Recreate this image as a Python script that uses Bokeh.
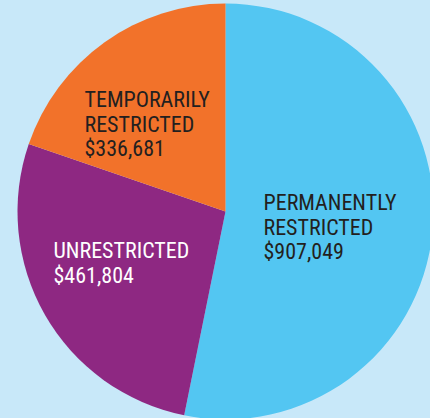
import math
from bokeh.plotting import figure
from bokeh.models import Range1d, ColumnDataSource, GlobalInlineStyleSheet
from bokeh.core.properties import value
from bokeh.embed import file_html
from bokeh.resources import INLINE

# data
categories = ["PERMANENTLY\nRESTRICTED", "UNRESTRICTED", "TEMPORARILY\nRESTRICTED"]
amounts = [907049, 461804, 336681]
colors = ["#53c6f2", "#8e2882", "#f2722a"]
text_colors = ["#231f20", "#ffffff", "#231f20"]

# label anchor positions (page px, first line baseline)
label_x = [263, 53, 84]
label_y = [202, 250, 99]

W, H = 430, 418
BG = "#c8e8f9"
cx, cy, R = 225, H - 211, 208

total = sum(amounts)
starts, ends = [], []
a = math.pi / 2
for v in amounts:
    starts.append(a)
    a -= v / total * 2 * math.pi
    ends.append(a)

p = figure(width=W, height=H, x_range=Range1d(0, W), y_range=Range1d(0, H),
           output_backend="svg", toolbar_location=None, min_border=0)
p.axis.visible = False
p.grid.visible = False
p.outline_line_color = None
p.background_fill_color = BG
p.border_fill_color = BG
p.stylesheets = [GlobalInlineStyleSheet(css=f"html,body{{margin:0;padding:0;background:{BG};overflow:hidden}}")]

src = ColumnDataSource(dict(x=[cx] * 3, y=[cy] * 3, s=starts, e=ends, c=colors))
p.wedge(x="x", y="y", radius=R, start_angle="s", end_angle="e", direction="clock",
        fill_color="c", line_color=None, source=src)

lines_x, lines_y, lines_t, lines_c = [], [], [], []
for cat, amt, lx, ly, tc in zip(categories, amounts, label_x, label_y, text_colors):
    parts = cat.split("\n") + [f"${amt:,}"]
    for i, t in enumerate(parts):
        lines_x.append(lx)
        lines_y.append(H - (ly + i * 24.5))
        lines_t.append(t)
        lines_c.append(tc)

p.text(x=lines_x, y=lines_y, text=lines_t, text_color=lines_c,
       text_font=value("Roboto Condensed"), text_font_size="22px",
       text_baseline="alphabetic", text_align="left")

open("out.html", "w").write(file_html(p, INLINE))
